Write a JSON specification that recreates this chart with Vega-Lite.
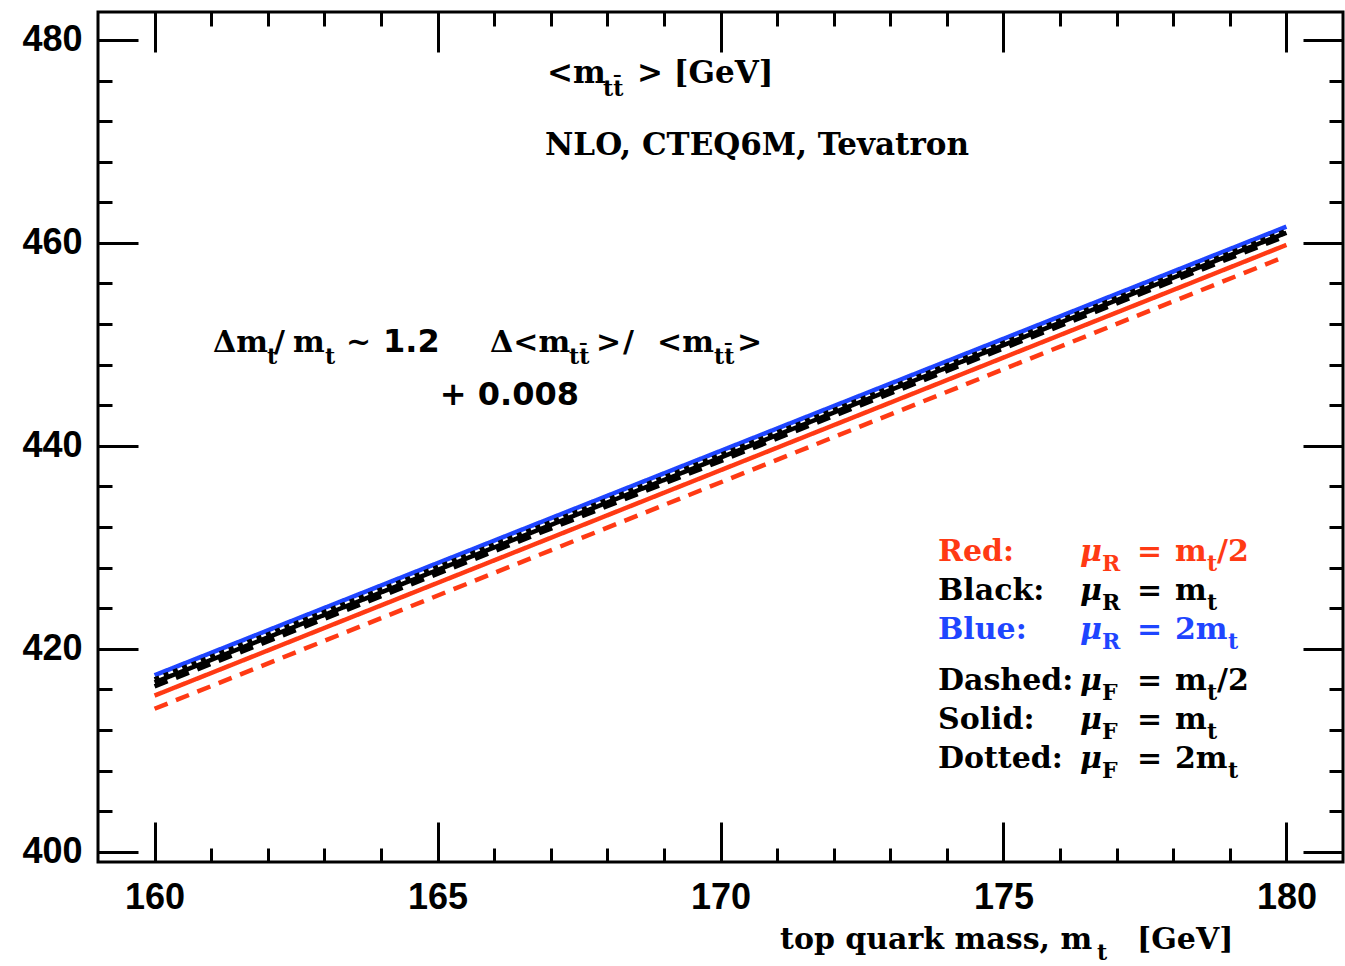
{
  "$schema": "https://vega.github.io/schema/vega-lite/v6.json",
  "width": 1245,
  "height": 850,
  "autosize": {"type": "none"},
  "padding": {"left": 98, "top": 12, "right": 2, "bottom": 104},
  "background": "white",
  "config": {
    "view": {"stroke": "black", "strokeWidth": 3},
    "axis": {
      "domain": false,
      "grid": false,
      "tickColor": "black",
      "tickWidth": 3,
      "labelFont": "Liberation Sans",
      "labelFontWeight": "bold",
      "labelFontSize": 36,
      "labelColor": "black",
      "title": null
    }
  },
  "datasets": {
    "lines": [
      {"m_t": 160, "mtt": 417.4, "mu_R": "2mt", "mu_F": "mt"},
      {"m_t": 180, "mtt": 461.6, "mu_R": "2mt", "mu_F": "mt"},
      {"m_t": 160, "mtt": 417.0, "mu_R": "mt", "mu_F": "2mt"},
      {"m_t": 180, "mtt": 461.2, "mu_R": "mt", "mu_F": "2mt"},
      {"m_t": 160, "mtt": 416.7, "mu_R": "mt", "mu_F": "mt"},
      {"m_t": 180, "mtt": 461.0, "mu_R": "mt", "mu_F": "mt"},
      {"m_t": 160, "mtt": 416.3, "mu_R": "mt", "mu_F": "mt/2"},
      {"m_t": 180, "mtt": 460.7, "mu_R": "mt", "mu_F": "mt/2"},
      {"m_t": 160, "mtt": 415.4, "mu_R": "mt/2", "mu_F": "mt"},
      {"m_t": 180, "mtt": 459.8, "mu_R": "mt/2", "mu_F": "mt"},
      {"m_t": 160, "mtt": 414.1, "mu_R": "mt/2", "mu_F": "mt/2"},
      {"m_t": 180, "mtt": 458.7, "mu_R": "mt/2", "mu_F": "mt/2"}
    ],
    "txt_title": [
      {"x": 166.934, "y": 475.76, "text": "<m", "mu_R": "none"},
      {"x": 168.525, "y": 475.76, "text": "> [GeV]", "mu_R": "none"},
      {"x": 166.899, "y": 468.68, "text": "NLO, CTEQ6M, Tevatron", "mu_R": "none"}
    ],
    "txt_main": [
      {"x": 161.032, "y": 449.29, "text": "Δm", "mu_R": "none"},
      {"x": 162.110, "y": 449.29, "text": "/", "mu_R": "none"},
      {"x": 162.446, "y": 449.29, "text": "m", "mu_R": "none"},
      {"x": 163.382, "y": 449.29, "text": "~", "mu_R": "none"},
      {"x": 165.927, "y": 449.29, "text": "Δ<m", "mu_R": "none"},
      {"x": 167.800, "y": 449.29, "text": ">", "mu_R": "none"},
      {"x": 168.277, "y": 449.29, "text": "/", "mu_R": "none"},
      {"x": 168.878, "y": 449.29, "text": "<m", "mu_R": "none"},
      {"x": 170.292, "y": 449.29, "text": ">", "mu_R": "none"},
      {"x": 173.843, "y": 428.62, "text": "Red:", "mu_R": "mt/2"},
      {"x": 173.843, "y": 424.78, "text": "Black:", "mu_R": "mt"},
      {"x": 173.843, "y": 420.94, "text": "Blue:", "mu_R": "2mt"},
      {"x": 173.843, "y": 415.92, "text": "Dashed:", "mu_R": "none"},
      {"x": 173.843, "y": 412.08, "text": "Solid:", "mu_R": "none"},
      {"x": 173.843, "y": 408.24, "text": "Dotted:", "mu_R": "none"},
      {"x": 177.36, "y": 428.62, "text": "=", "mu_R": "mt/2"},
      {"x": 177.36, "y": 424.78, "text": "=", "mu_R": "mt"},
      {"x": 177.36, "y": 420.94, "text": "=", "mu_R": "2mt"},
      {"x": 177.36, "y": 415.92, "text": "=", "mu_R": "none"},
      {"x": 177.36, "y": 412.08, "text": "=", "mu_R": "none"},
      {"x": 177.36, "y": 408.24, "text": "=", "mu_R": "none"},
      {"x": 178.03, "y": 428.62, "text": "m", "mu_R": "mt/2"},
      {"x": 178.774, "y": 428.62, "text": "/2", "mu_R": "mt/2"},
      {"x": 178.03, "y": 424.78, "text": "m", "mu_R": "mt"},
      {"x": 178.03, "y": 420.94, "text": "2m", "mu_R": "2mt"},
      {"x": 178.03, "y": 415.92, "text": "m", "mu_R": "none"},
      {"x": 178.774, "y": 415.92, "text": "/2", "mu_R": "none"},
      {"x": 178.03, "y": 412.08, "text": "m", "mu_R": "none"},
      {"x": 178.03, "y": 408.24, "text": "2m", "mu_R": "none"},
      {"x": 171.052, "y": 390.43, "text": "top quark mass, m", "mu_R": "none"},
      {"x": 177.360, "y": 390.43, "text": "[GeV]", "mu_R": "none"}
    ],
    "txt_sub": [
      {"x": 167.924, "y": 474.48, "text": "tt̄", "mu_R": "none"},
      {"x": 161.986, "y": 448.10, "text": "t", "mu_R": "none"},
      {"x": 163.011, "y": 448.10, "text": "t", "mu_R": "none"},
      {"x": 167.323, "y": 448.10, "text": "tt̄", "mu_R": "none"},
      {"x": 169.885, "y": 448.10, "text": "tt̄", "mu_R": "none"},
      {"x": 176.74, "y": 427.64, "text": "R", "mu_R": "mt/2"},
      {"x": 176.74, "y": 423.80, "text": "R", "mu_R": "mt"},
      {"x": 176.74, "y": 419.96, "text": "R", "mu_R": "2mt"},
      {"x": 176.74, "y": 414.94, "text": "F", "mu_R": "none"},
      {"x": 176.74, "y": 411.10, "text": "F", "mu_R": "none"},
      {"x": 176.74, "y": 407.26, "text": "F", "mu_R": "none"},
      {"x": 178.597, "y": 427.64, "text": "t", "mu_R": "mt/2"},
      {"x": 178.597, "y": 423.80, "text": "t", "mu_R": "mt"},
      {"x": 178.968, "y": 419.96, "text": "t", "mu_R": "2mt"},
      {"x": 178.597, "y": 414.94, "text": "t", "mu_R": "none"},
      {"x": 178.597, "y": 411.10, "text": "t", "mu_R": "none"},
      {"x": 178.968, "y": 407.26, "text": "t", "mu_R": "none"},
      {"x": 176.653, "y": 389.34, "text": "t", "mu_R": "none"}
    ],
    "txt_mu": [
      {"x": 176.353, "y": 428.62, "text": "μ", "mu_R": "mt/2"},
      {"x": 176.353, "y": 424.78, "text": "μ", "mu_R": "mt"},
      {"x": 176.353, "y": 420.94, "text": "μ", "mu_R": "2mt"},
      {"x": 176.353, "y": 415.92, "text": "μ", "mu_R": "none"},
      {"x": 176.353, "y": 412.08, "text": "μ", "mu_R": "none"},
      {"x": 176.353, "y": 408.24, "text": "μ", "mu_R": "none"}
    ],
    "txt_sans": [
      {"x": 164.036, "y": 449.29, "text": "1.2", "mu_R": "none"},
      {"x": 165.04, "y": 444.07, "text": "+ 0.008", "mu_R": "none"}
    ]
  },
  "layer": [
    {
      "data": {"name": "lines"},
      "mark": {"type": "line", "strokeWidth": 4.5, "clip": true},
      "encoding": {
        "x": {"field": "m_t", "type": "quantitative",
              "scale": {"domain": [159, 181], "nice": false, "zero": false},
              "axis": {"orient": "bottom", "values": [160, 165, 170, 175, 180], "tickSize": -40, "labelPadding": 58, "format": "d"}},
        "y": {"field": "mtt", "type": "quantitative",
              "scale": {"domain": [399, 482.75], "nice": false, "zero": false},
              "axis": {"orient": "left", "values": [400, 420, 440, 460, 480], "tickSize": -40, "labelPadding": 56, "format": "d"}},
        "color": {"field": "mu_R", "type": "nominal",
                  "scale": {"domain": ["mt/2", "mt", "2mt", "none"], "range": ["#ff3a14", "#000000", "#1f45ff", "#000000"]},
                  "legend": null},
        "strokeDash": {"field": "mu_F", "type": "nominal",
                       "scale": {"domain": ["mt/2", "mt", "2mt"], "range": [[14, 9], [1, 0], [5, 5]]},
                       "legend": null}
      }
    },
    {
      "data": {"name": "lines"},
      "mark": {"type": "line", "opacity": 0},
      "encoding": {
        "x": {"field": "m_t", "type": "quantitative",
              "scale": {"domain": [159, 181], "nice": false, "zero": false},
              "axis": {"orient": "bottom", "values": [161, 162, 163, 164, 166, 167, 168, 169, 171, 172, 173, 174, 176, 177, 178, 179], "tickSize": -14, "labels": false}},
        "y": {"field": "mtt", "type": "quantitative",
              "scale": {"domain": [399, 482.75], "nice": false, "zero": false},
              "axis": {"orient": "left", "values": [404, 408, 412, 416, 424, 428, 432, 436, 444, 448, 452, 456, 464, 468, 472, 476], "tickSize": -14, "labels": false}}
      }
    },
    {
      "data": {"name": "lines"},
      "mark": {"type": "line", "opacity": 0},
      "encoding": {
        "x": {"field": "m_t", "type": "quantitative",
              "scale": {"domain": [159, 181], "nice": false, "zero": false},
              "axis": {"orient": "top", "values": [160, 165, 170, 175, 180], "tickSize": -40, "labels": false}},
        "y": {"field": "mtt", "type": "quantitative",
              "scale": {"domain": [399, 482.75], "nice": false, "zero": false},
              "axis": {"orient": "right", "values": [400, 420, 440, 460, 480], "tickSize": -40, "labels": false}}
      }
    },
    {
      "data": {"name": "lines"},
      "mark": {"type": "line", "opacity": 0},
      "encoding": {
        "x": {"field": "m_t", "type": "quantitative",
              "scale": {"domain": [159, 181], "nice": false, "zero": false},
              "axis": {"orient": "top", "values": [161, 162, 163, 164, 166, 167, 168, 169, 171, 172, 173, 174, 176, 177, 178, 179], "tickSize": -14, "labels": false}},
        "y": {"field": "mtt", "type": "quantitative",
              "scale": {"domain": [399, 482.75], "nice": false, "zero": false},
              "axis": {"orient": "right", "values": [404, 408, 412, 416, 424, 428, 432, 436, 444, 448, 452, 456, 464, 468, 472, 476], "tickSize": -14, "labels": false}}
      }
    },
    {
      "data": {"name": "txt_title"},
      "mark": {"type": "text", "align": "left", "baseline": "alphabetic", "font": "DejaVu Serif", "fontWeight": "bold", "fontSize": 31},
      "encoding": {
        "x": {"field": "x", "type": "quantitative", "scale": {"domain": [159, 181], "nice": false, "zero": false}, "axis": null},
        "y": {"field": "y", "type": "quantitative", "scale": {"domain": [399, 482.75], "nice": false, "zero": false}, "axis": null},
        "text": {"field": "text"},
        "color": {"field": "mu_R", "type": "nominal", "scale": {"domain": ["mt/2", "mt", "2mt", "none"], "range": ["#ff3a14", "#000000", "#1f45ff", "#000000"]}, "legend": null}
      }
    },
    {
      "data": {"name": "txt_main"},
      "mark": {"type": "text", "align": "left", "baseline": "alphabetic", "font": "DejaVu Serif", "fontWeight": "bold", "fontSize": 30},
      "encoding": {
        "x": {"field": "x", "type": "quantitative", "scale": {"domain": [159, 181], "nice": false, "zero": false}, "axis": null},
        "y": {"field": "y", "type": "quantitative", "scale": {"domain": [399, 482.75], "nice": false, "zero": false}, "axis": null},
        "text": {"field": "text"},
        "color": {"field": "mu_R", "type": "nominal", "scale": {"domain": ["mt/2", "mt", "2mt", "none"], "range": ["#ff3a14", "#000000", "#1f45ff", "#000000"]}, "legend": null}
      }
    },
    {
      "data": {"name": "txt_sub"},
      "mark": {"type": "text", "align": "left", "baseline": "alphabetic", "font": "DejaVu Serif", "fontWeight": "bold", "fontSize": 22},
      "encoding": {
        "x": {"field": "x", "type": "quantitative", "scale": {"domain": [159, 181], "nice": false, "zero": false}, "axis": null},
        "y": {"field": "y", "type": "quantitative", "scale": {"domain": [399, 482.75], "nice": false, "zero": false}, "axis": null},
        "text": {"field": "text"},
        "color": {"field": "mu_R", "type": "nominal", "scale": {"domain": ["mt/2", "mt", "2mt", "none"], "range": ["#ff3a14", "#000000", "#1f45ff", "#000000"]}, "legend": null}
      }
    },
    {
      "data": {"name": "txt_mu"},
      "mark": {"type": "text", "align": "left", "baseline": "alphabetic", "font": "DejaVu Serif", "fontWeight": "bold", "fontStyle": "italic", "fontSize": 30},
      "encoding": {
        "x": {"field": "x", "type": "quantitative", "scale": {"domain": [159, 181], "nice": false, "zero": false}, "axis": null},
        "y": {"field": "y", "type": "quantitative", "scale": {"domain": [399, 482.75], "nice": false, "zero": false}, "axis": null},
        "text": {"field": "text"},
        "color": {"field": "mu_R", "type": "nominal", "scale": {"domain": ["mt/2", "mt", "2mt", "none"], "range": ["#ff3a14", "#000000", "#1f45ff", "#000000"]}, "legend": null}
      }
    },
    {
      "data": {"name": "txt_sans"},
      "mark": {"type": "text", "align": "left", "baseline": "alphabetic", "font": "DejaVu Sans", "fontWeight": "bold", "fontSize": 32},
      "encoding": {
        "x": {"field": "x", "type": "quantitative", "scale": {"domain": [159, 181], "nice": false, "zero": false}, "axis": null},
        "y": {"field": "y", "type": "quantitative", "scale": {"domain": [399, 482.75], "nice": false, "zero": false}, "axis": null},
        "text": {"field": "text"},
        "color": {"field": "mu_R", "type": "nominal", "scale": {"domain": ["mt/2", "mt", "2mt", "none"], "range": ["#ff3a14", "#000000", "#1f45ff", "#000000"]}, "legend": null}
      }
    }
  ],
  "resolve": {"axis": {"x": "independent", "y": "independent"}}
}
